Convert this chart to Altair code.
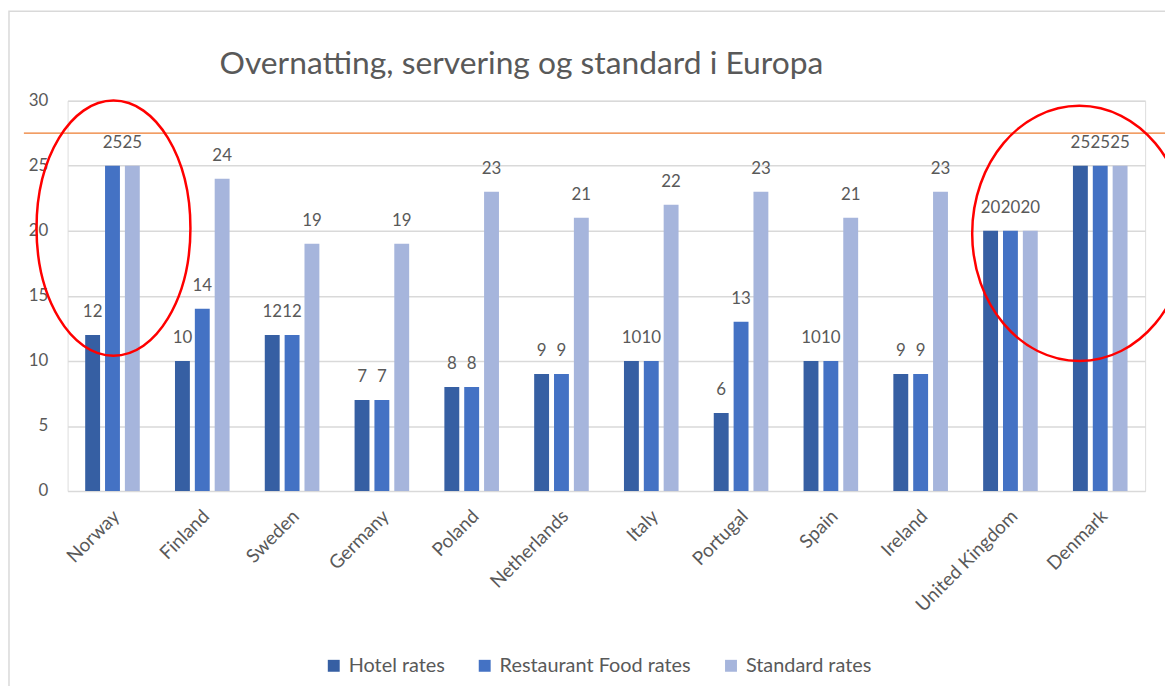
import altair as alt
import pandas as pd

countries = ["Norway", "Finland", "Sweden", "Germany", "Poland", "Netherlands",
             "Italy", "Portugal", "Spain", "Ireland", "United Kingdom", "Denmark"]
series_names = ["Hotel rates", "Restaurant Food rates", "Standard rates"]
hotel = [12, 10, 12, 7, 8, 9, 10, 6, 10, 9, 20, 25]
restaurant = [25, 14, 12, 7, 8, 9, 10, 13, 10, 9, 20, 25]
standard = [25, 24, 19, 19, 23, 21, 22, 23, 21, 23, 20, 25]
colors = ["#365FA3", "#4472C4", "#A6B5DC"]
y_ticks = [0, 5, 10, 15, 20, 25, 30]
threshold = 27.5
title_text = "Overnatting, servering og standard i Europa"

rows = []
for name, vals in zip(series_names, [hotel, restaurant, standard]):
    for c, v in zip(countries, vals):
        rows.append({"country": c, "series": name, "value": v})
df = pd.DataFrame(rows)

FONT = "Lato"
GREY = "#595959"

x_enc = alt.X("country:N", sort=countries, title=None,
              scale=alt.Scale(paddingInner=0.392, paddingOuter=0.196),
              axis=alt.Axis(labelAngle=-45, labelAlign="right", labelBaseline="middle",
                            labelPadding=22, labelOffset=4, labelFontSize=19, labelColor=GREY,
                            labelFont=FONT, domain=False, ticks=False, grid=False))
y_enc = alt.Y("value:Q", title=None,
              scale=alt.Scale(domain=[0, 30], nice=False),
              axis=alt.Axis(values=y_ticks, labelFontSize=17, labelColor=GREY,
                            labelFont=FONT, labelPadding=20, domain=False, ticks=False,
                            gridColor="#d9d9d9", gridWidth=1.5))
xoff = alt.XOffset("series:N", sort=series_names,
                   scale=alt.Scale(paddingInner=0.25, paddingOuter=0))

base = alt.Chart(df)
bars = base.mark_bar().encode(
    x=x_enc, y=y_enc, xOffset=xoff,
    color=alt.Color("series:N", sort=series_names,
                    scale=alt.Scale(domain=series_names, range=colors),
                    legend=alt.Legend(title=None, orient="none", direction="horizontal",
                                      legendX=258, legendY=559, labelFontSize=20,
                                      labelFont=FONT, labelColor=GREY, symbolType="square",
                                      symbolSize=144, symbolStrokeWidth=0, labelLimit=0,
                                      columnPadding=30, labelOffset=5))
)
labels = base.mark_text(fontSize=17, font=FONT, color=GREY, baseline="alphabetic", dy=-18).encode(
    x=alt.X("country:N", sort=countries), y="value:Q", xOffset=xoff, text="value:Q"
)

rule = alt.Chart(pd.DataFrame({"t": [threshold]})).mark_rule(
    color="#ED7D31", strokeWidth=1.3).encode(
    y="t:Q", x=alt.value(-44), x2=alt.value(1140))

k = 0.5523
def ellipse_path(a):
    ak = a * k
    return (f"M {a} 0 C {a} {k} {ak} 1 0 1 C {-ak} 1 {-a} {k} {-a} 0 "
            f"C {-a} {-k} {-ak} -1 0 -1 C {ak} -1 {a} {-k} {a} 0 Z")

ell1_df = pd.DataFrame({"country": ["Norway"], "value": [20.2]})
ell2_df = pd.DataFrame({"country": ["Denmark"], "value": [19.8]})
ell1 = alt.Chart(ell1_df).mark_point(shape=ellipse_path(0.603), size=66049, filled=False,
                                     stroke="#FF0000", strokeWidth=2.5, opacity=1,
                                     xOffset=1).encode(
    x=alt.X("country:N", sort=countries), y="value:Q")
ell2 = alt.Chart(ell2_df).mark_point(shape=ellipse_path(0.84), size=66049, filled=False,
                                     stroke="#FF0000", strokeWidth=2.5, opacity=1,
                                     xOffset=-21).encode(
    x=alt.X("country:N", sort=countries), y="value:Q")

border = alt.Chart(pd.DataFrame({"a": [0]})).mark_rect(
    fill=None, stroke="#d9d9d9", strokeWidth=1.5).encode(
    x=alt.value(-59), x2=alt.value(1200), y=alt.value(-90), y2=alt.value(700))

title = alt.Chart(pd.DataFrame({"t": [title_text]})).mark_text(
    fontSize=32, font=FONT, color=GREY, align="left", baseline="alphabetic").encode(
    text="t:N", x=alt.value(153), y=alt.value(-27))

chart = alt.layer(border, bars, labels, rule, ell1, ell2, title).properties(
    width=1085, height=393,
    autosize=alt.AutoSizeParams(type="none"),
    padding={"left": 60, "top": 91, "right": 20, "bottom": 194},
).configure_view(stroke=None).configure(background="white")

chart.save("out.html", embed_options={"renderer": "svg", "actions": False})
